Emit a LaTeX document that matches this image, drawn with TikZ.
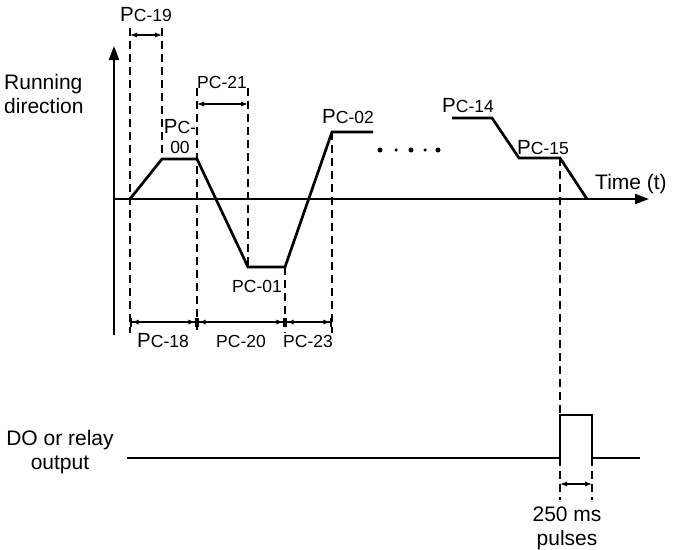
\documentclass[tikz,border=0pt]{standalone}
\usepackage{fontspec}
\setmainfont{Liberation Sans}
\usetikzlibrary{arrows.meta}
\tikzset{
    achse/.style   = {line width=2.2pt, -{Triangle[length=14pt, width=10pt]}},
    kurve/.style   = {line width=2.7pt, line join=miter},
    hilfs/.style   = {line width=2.4pt, dash pattern=on 8pt off 5pt},
    mass/.style    = {line width=1.1pt, {Latex[length=7pt, width=5pt]}-{Latex[length=7pt, width=5pt]}},
    massbar/.style = {line width=1.1pt, {Bar[width=9pt, line width=1.6pt]Latex[length=7pt, width=5pt]}-{Latex[length=7pt, width=5pt]Bar[width=9pt, line width=1.6pt]}},
    beschr/.style  = {font=\fontsize{17.5}{20}\selectfont, inner sep=1pt, align=center},
    titel/.style   = {font=\fontsize{21}{24}\selectfont, inner sep=0pt},
    punkt/.style   = {circle, fill, inner sep=0pt}
}
\newcommand{\pclab}[1]{{\fontsize{20.5}{20}\selectfont P}C-#1}

\begin{document}
\begin{tikzpicture}[x=1pt, y=-1pt]
        \useasboundingbox (0,0) rectangle (674,549);

        % --- Achsen ---
        \coordinate (yb) at (114,335);
        \coordinate (yt) at (114,46);
        \coordinate (o)  at (114,199);
        \coordinate (xt) at (649,199);
        \draw[achse] (yb) -- (yt);
        \draw[achse] (o) -- (xt);
        \node[titel, align=left, anchor=north west] (run) at (4,74) {Running\\direction};
        \node[titel, anchor=west] (zeit) at (595,184) {Time (t)};

        % --- Verlauf ---
        \coordinate (a0) at (130,199);
        \coordinate (a1) at (162,159);
        \coordinate (a2) at (197,159);
        \coordinate (a3) at (248,267);
        \coordinate (a4) at (285,267);
        \coordinate (a5) at (332,132);
        \coordinate (a6) at (373,132);
        \coordinate (b0) at (452,118);
        \coordinate (b1) at (492,118);
        \coordinate (b2) at (519,158);
        \coordinate (b3) at (560,158);
        \coordinate (b4) at (587,199);
        \draw[kurve] (a0) -- (a1) -- (a2) -- (a3) -- (a4) -- (a5) -- (a6);
        \draw[kurve] (b0) -- (b1) -- (b2) -- (b3) -- (b4);

        \node[punkt, minimum size=5pt]   (d1) at (380,150) {};
        \node[punkt, minimum size=3.5pt] (d2) at (396,150) {};
        \node[punkt, minimum size=5pt]   (d3) at (411,150) {};
        \node[punkt, minimum size=3.5pt] (d4) at (425,150) {};
        \node[punkt, minimum size=5pt]   (d5) at (438,150) {};

        % --- Hilfslinien ---
        \coordinate (h19) at (0,28);
        \coordinate (h21) at (0,88);
        \coordinate (hu)  at (0,333);
        \draw[hilfs] (a0 |- h19) -- (a0 |- hu);
        \draw[hilfs] (a1 |- h19) -- (a1);
        \draw[hilfs] (a2 |- h21) -- (a2 |- hu);
        \draw[hilfs] (a3 |- h21) -- (a3);
        \draw[hilfs] (a4) -- (a4 |- hu);
        \draw[hilfs] (a5) -- (a5 |- hu);

        % --- Zeiten ---
        \coordinate (m19) at (0,35);
        \coordinate (m21) at (0,104);
        \coordinate (mu)  at (0,322);
        \draw[mass]    (a0 |- m19) -- (a1 |- m19);
        \draw[mass]    (a2 |- m21) -- (a3 |- m21);
        \draw[massbar] (a0 |- mu) -- (a2 |- mu);
        \draw[massbar] (a2 |- mu) -- (a4 |- mu);
        \draw[massbar] (a4 |- mu) -- (a5 |- mu);

        \node[beschr] (l19) at (146,15)  {\pclab{19}};
        \node[beschr] (l21) at (222,82)  {PC-21};
        \node[beschr] (l00) at (180,137) {\pclab{}\\00};
        \node[beschr] (l01) at (257,286) {PC-01};
        \node[beschr] (l02) at (348,117) {\pclab{02}};
        \node[beschr] (l14) at (468,106) {\pclab{14}};
        \node[beschr] (l15) at (543,148) {\pclab{15}};
        \node[beschr] (l18) at (163,341) {\pclab{18}};
        \node[beschr] (l20) at (241,341) {PC-20};
        \node[beschr] (l23) at (308,341) {PC-23};

        % --- Ausgang ---
        \coordinate (p0) at (127,458);
        \coordinate (p1) at (560,458);
        \coordinate (p2) at (560,415);
        \coordinate (p3) at (592,415);
        \coordinate (p4) at (592,458);
        \coordinate (p5) at (640,458);
        \draw[kurve] (p0) -- (p1) -- (p2) -- (p3) -- (p4) -- (p5);
        \node[titel, align=center] (do) at (60,452) {DO or relay\\output};

        \coordinate (hp) at (0,500);
        \coordinate (mp) at (0,484);
        \draw[hilfs] (b3) -- (p2);
        \draw[hilfs] (p1) -- (p1 |- hp);
        \draw[hilfs] (p4) -- (p4 |- hp);
        \draw[mass] (p1 |- mp) -- (p4 |- mp);
        \node[titel, align=center] (puls) at (567,528) {250 ms\\pulses};
\end{tikzpicture}
\end{document}
